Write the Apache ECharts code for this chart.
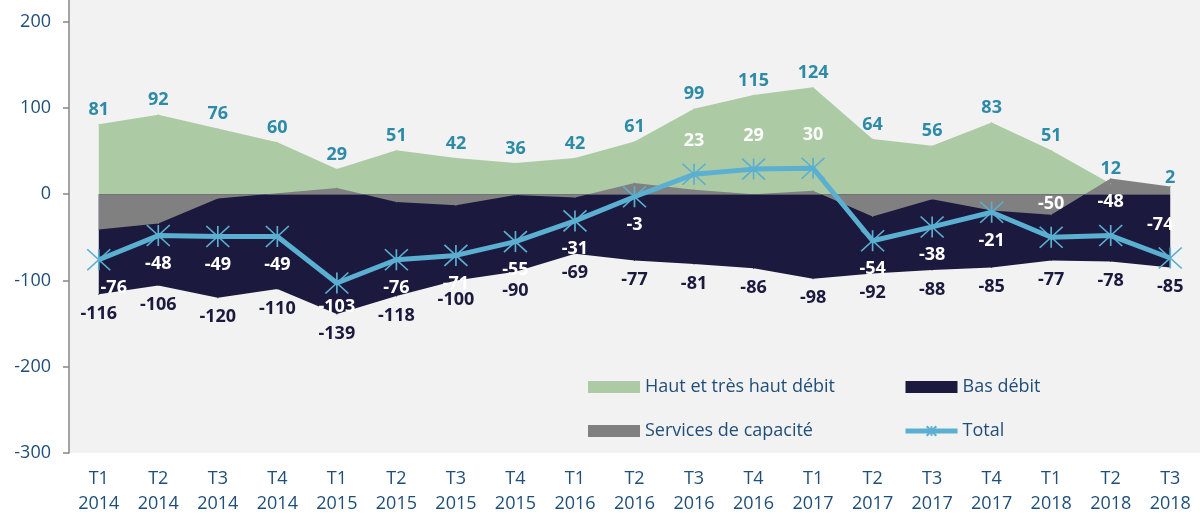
<!DOCTYPE html>
<html>
<head>
<meta charset="utf-8">
<script src="https://cdn.jsdelivr.net/npm/echarts@6/dist/echarts.min.js"></script>
<style>
  html, body { margin: 0; padding: 0; background: #ffffff; }
  #chart { width: 1200px; height: 518px; }
</style>
</head>
<body>
<div id="chart"></div>
<script>
// Quarterly net variation by access type

const quarters = [
  "T1\n2014", "T2\n2014", "T3\n2014", "T4\n2014",
  "T1\n2015", "T2\n2015", "T3\n2015", "T4\n2015",
  "T1\n2016", "T2\n2016", "T3\n2016", "T4\n2016",
  "T1\n2017", "T2\n2017", "T3\n2017", "T4\n2017",
  "T1\n2018", "T2\n2018", "T3\n2018"
];

const hautDebit = [81, 92, 76, 60, 29, 51, 42, 36, 42, 61, 99, 115, 124, 64, 56, 83, 51, 12, 2];
const basDebit = [-116, -106, -120, -110, -139, -118, -100, -90, -69, -77, -81, -86, -98, -92, -88, -85, -77, -78, -85];
const servicesCapacite = [-41, -34, -5, 1, 7, -9, -13, -1, -4, 13, 5, 0, 4, -26, -6, -19, -24, 18, 9];
const total = [-76, -48, -49, -49, -103, -76, -71, -55, -31, -3, 23, 29, 30, -54, -38, -21, -50, -48, -74];

const yTicks = [-300, -200, -100, 0, 100, 200];

// label placement for the total line (style only)
const totalLabelPos = [
  "bottom", "bottom", "bottom", "bottom", "bottom", "bottom", "bottom", "bottom", "bottom", "bottom",
  "top", "top", "top", "bottom", "bottom", "bottom", "top", "top", "top"
];
const totalLabelShift = { 0: [15, 0], 4: [0, -4], 18: [-10, 0] };

const COLORS = {
  green: "#ACCBA5",
  navy: "#1B1A3E",
  grey: "#808080",
  line: "#5BAFD0",
  teal: "#2E8BA8",
  text: "#1F4E79"
};
const FONT = "Open Sans";

const chart = echarts.init(document.getElementById("chart"), null, { renderer: "canvas" });

function areaSeries(name, data, color, label) {
  return {
    name: name,
    type: "line",
    data: data,
    symbol: "circle",
    symbolSize: 1,
    itemStyle: { color: color },
    lineStyle: { width: 0, color: color },
    areaStyle: { color: color, opacity: 1 },
    label: label,
    emphasis: { disabled: true }
  };
}

const legendText = {
  color: COLORS.text,
  fontFamily: FONT,
  fontSize: 18,
  lineHeight: 22
};

const legendBase = {
  orient: "vertical",
  top: 376,
  padding: 0,
  itemWidth: 52,
  itemHeight: 12,
  itemGap: 22,
  textStyle: legendText
};

chart.setOption({
  animation: false,
  backgroundColor: "#ffffff",
  textStyle: { fontFamily: FONT },
  grid: {
    left: 69,
    right: 0,
    top: 0,
    bottom: 65,
    show: true,
    backgroundColor: "#F2F2F2",
    borderWidth: 0
  },
  legend: [
    Object.assign({}, legendBase, {
      left: 588,
      data: [
        { name: "Haut et très haut débit", icon: "rect" },
        { name: "Services de capacité", icon: "rect" }
      ]
    }),
    Object.assign({}, legendBase, {
      left: 903,
      data: [
        { name: "Bas débit", icon: "rect" },
        { name: "Total", lineStyle: { width: 5 } }
      ]
    })
  ],
  xAxis: {
    type: "category",
    data: quarters,
    boundaryGap: true,
    axisLine: { show: false },
    axisTick: { show: false },
    axisLabel: {
      color: COLORS.text,
      fontFamily: FONT,
      fontSize: 18,
      lineHeight: 25,
      margin: 13,
      interval: 0
    }
  },
  yAxis: {
    type: "value",
    min: -300,
    max: 225,
    interval: 100,
    splitLine: { show: false },
    axisLine: { show: true, lineStyle: { color: "#878787", width: 1.5 } },
    axisTick: {
      show: true,
      length: 6,
      customValues: yTicks,
      lineStyle: { color: "#878787", width: 1.5 }
    },
    axisLabel: {
      color: COLORS.text,
      fontFamily: FONT,
      fontSize: 18,
      margin: 18,
      customValues: yTicks
    }
  },
  series: [
    areaSeries("Haut et très haut débit", hautDebit, COLORS.green, {
      show: true,
      position: "top",
      distance: 5,
      color: COLORS.teal,
      fontFamily: FONT,
      fontWeight: "bold",
      fontSize: 18
    }),
    areaSeries("Bas débit", basDebit, COLORS.navy, {
      show: true,
      position: "bottom",
      distance: 10,
      color: COLORS.navy,
      fontFamily: FONT,
      fontWeight: "bold",
      fontSize: 18
    }),
    areaSeries("Services de capacité", servicesCapacite, COLORS.grey, { show: false }),
    {
      name: "Total",
      type: "line",
      data: total.map((v, i) => ({
        value: v,
        label: {
          position: totalLabelPos[i],
          offset: totalLabelShift[i] || [0, 0],
          distance: totalLabelPos[i] === "top" ? 13 : 8
        }
      })),
      lineStyle: { color: COLORS.line, width: 5 },
      symbol: "path://M0,0L20,20M20,0L0,20M10,0L10,20",
      symbolSize: [23, 21],
      itemStyle: { color: COLORS.line, borderColor: COLORS.line, borderWidth: 1.6 },
      label: {
        show: true,
        color: "#ffffff",
        fontFamily: FONT,
        fontWeight: "bold",
        fontSize: 18
      },
      z: 5,
      emphasis: { disabled: true }
    }
  ]
});
</script>
</body>
</html>
